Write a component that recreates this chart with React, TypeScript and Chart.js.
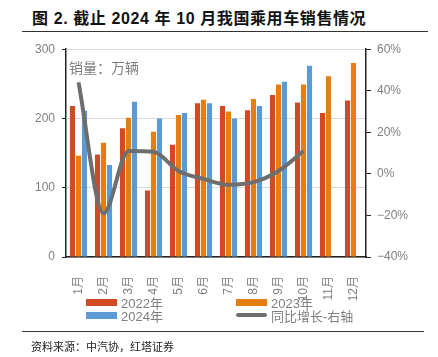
import React, { useEffect, useRef } from "react";
import { Chart, registerables } from "chart.js";

Chart.register(...registerables);

const months = ["1月", "2月", "3月", "4月", "5月", "6月", "7月", "8月", "9月", "10月", "11月", "12月"];
const sales2022 = [218, 148, 186, 96, 162, 222, 218, 212, 234, 223, 208, 226];
const sales2023 = [146, 165, 201, 181, 205, 227, 210, 228, 249, 249, 261, 280];
const sales2024 = [211, 133, 224, 200, 208, 222, 200, 218, 253, 276, null, null];
const yoyGrowth = [44, -19, 11, 10.6, 1.4, -2.4, -5.2, -4, 1.4, 11, null, null];

const leftTicks = [0, 100, 200, 300];
const rightTicks = [-40, -20, 0, 20, 40, 60];

const C2022 = "#D14A22";
const C2023 = "#E57E10";
const C2024 = "#5B9BD5";
const CLINE = "#6E6E6E";

const unitLabelPlugin = {
  id: "unitLabel",
  afterDraw(chart: any) {
    const { ctx, chartArea } = chart;
    ctx.save();
    ctx.font = "14px 'Noto Sans CJK SC'";
    ctx.fillStyle = "#7F7F7F";
    ctx.textBaseline = "middle";
    ctx.textAlign = "left";
    ctx.fillText("销量：万辆", chartArea.left + 3, chartArea.top + 18);
    ctx.restore();
  },
};

function ChartCanvas() {
  const ref = useRef<HTMLCanvasElement | null>(null);
  useEffect(() => {
    if (!ref.current) return;
    const chart = new Chart(ref.current, {
      type: "bar",
      data: {
        labels: months,
        datasets: [
          {
            type: "line",
            label: "同比增长-右轴",
            data: yoyGrowth,
            yAxisID: "y1",
            borderColor: CLINE,
            borderWidth: 4,
            pointRadius: 0,
            cubicInterpolationMode: "monotone",
            borderJoinStyle: "round",
            order: 0,
          } as any,
          { label: "2022年", data: sales2022, backgroundColor: C2022, yAxisID: "y", order: 1, categoryPercentage: 0.72, barPercentage: 0.85 },
          { label: "2023年", data: sales2023, backgroundColor: C2023, yAxisID: "y", order: 1, categoryPercentage: 0.72, barPercentage: 0.85 },
          { label: "2024年", data: sales2024, backgroundColor: C2024, yAxisID: "y", order: 1, categoryPercentage: 0.72, barPercentage: 0.85 },
        ],
      },
      options: {
        animation: false,
        responsive: false,
        maintainAspectRatio: false,
        layout: { padding: { top: 12, left: 0, right: 0, bottom: 0 } },
        plugins: { legend: { display: false }, tooltip: { enabled: false } },
        scales: {
          x: {
            grid: { display: false },
            border: { display: true, color: "#222", width: 1.5 },
            ticks: {
              color: "#7F7F7F",
              font: { size: 12, family: "'Liberation Sans', 'Noto Sans CJK SC'" },
              maxRotation: 90,
              minRotation: 90,
              padding: 11,
            },
            afterFit(scale: any) {
              scale.height = 48;
            },
          },
          y: {
            position: "left",
            min: 0,
            max: 300,
            afterBuildTicks(scale: any) {
              scale.ticks = leftTicks.map((v) => ({ value: v }));
            },
            grid: { color: "#D9D9D9", tickColor: "#222", tickLength: 4, lineWidth: 1 },
            border: { display: true, color: "#222", width: 1.5 },
            ticks: { color: "#7F7F7F", font: { size: 12, family: "'Liberation Sans'" }, padding: 7 },
            afterFit(scale: any) {
              scale.width = 66;
            },
          },
          y1: {
            position: "right",
            min: -40,
            max: 60,
            afterBuildTicks(scale: any) {
              scale.ticks = rightTicks.map((v) => ({ value: v }));
            },
            grid: { drawOnChartArea: false, tickColor: "#222", tickLength: 5 },
            border: { display: true, color: "#222", width: 1.5 },
            ticks: {
              color: "#7F7F7F",
              font: { size: 12, family: "'Liberation Sans'" },
              padding: 6,
              callback: (v: any) => (v < 0 ? "\u2212" + Math.abs(v) + "%" : v + "%"),
            },
            afterFit(scale: any) {
              scale.width = 72;
            },
          },
        },
      },
      plugins: [unitLabelPlugin],
    });
    return () => chart.destroy();
  }, []);
  return <canvas ref={ref} width={438} height={270} style={{ position: "absolute", left: 0, top: 35, width: 438, height: 270 }} />;
}

function LegendItem({ x, y, label, color, line }: { x: number; y: number; label: string; color: string; line?: boolean }) {
  return (
    <div style={{ position: "absolute", left: x, top: y - 9, height: 18, display: "flex", alignItems: "center", whiteSpace: "nowrap" }}>
      <div
        style={{
          width: 31,
          height: line ? 4 : 7,
          background: color,
          borderRadius: line ? 2 : 0,
          marginRight: 4,
        }}
      />
      <span style={{ fontSize: 13, color: "#7F7F7F", fontFamily: "'Liberation Sans', 'Noto Sans CJK SC'" }}>{label}</span>
    </div>
  );
}

export default function App() {
  return (
    <div style={{ position: "absolute", left: 0, top: 0, width: 438, height: 357, background: "#fff", overflow: "hidden" }}>
      <div
        style={{
          position: "absolute",
          left: 32,
          top: 5,
          fontSize: 16,
          fontWeight: "bold",
          color: "#111",
          letterSpacing: 0.6,
          fontFamily: "'Liberation Sans', 'Noto Sans CJK SC'",
          whiteSpace: "nowrap",
        }}
      >
        图 2. 截止 2024 年 10 月我国乘用车销售情况
      </div>
      <div style={{ position: "absolute", left: 22, top: 31, width: 406, height: 1, background: "#333" }} />
      <ChartCanvas />
      <LegendItem x={86} y={302} label="2022年" color={C2022} />
      <LegendItem x={236} y={302} label="2023年" color={C2023} />
      <LegendItem x={86} y={315} label="2024年" color={C2024} />
      <LegendItem x={236} y={315} label="同比增长-右轴" color={CLINE} line />
      <div style={{ position: "absolute", left: 22, top: 331, width: 402, height: 1, background: "#333" }} />
      <div
        style={{
          position: "absolute",
          left: 31,
          top: 338,
          fontSize: 11,
          color: "#222",
          fontFamily: "'Noto Sans CJK SC'",
          whiteSpace: "nowrap",
        }}
      >
        资料来源：中汽协，红塔证券
      </div>
    </div>
  );
}
